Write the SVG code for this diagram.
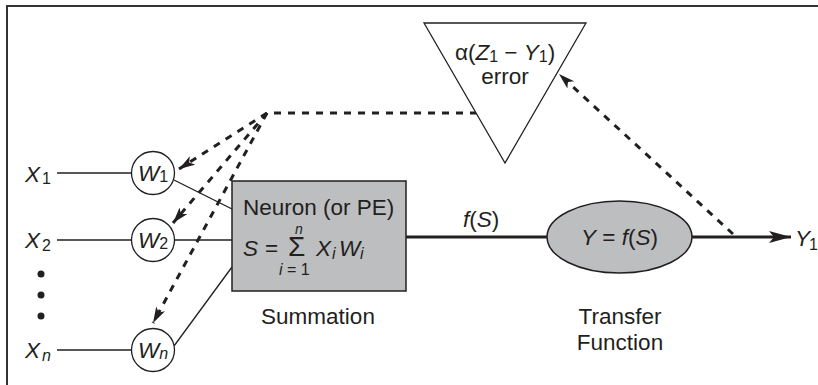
<svg xmlns="http://www.w3.org/2000/svg" width="818" height="385" viewBox="0 0 818 385">
<style>
text{font-family:"Liberation Sans",Arial,sans-serif;font-size:22.5px;fill:#231f20}
.i{font-style:italic}
.s{font-size:16px}
.sn{font-size:14px}
.sig{font-size:28px}
.thin{stroke:#231f20;stroke-width:1.3;fill:none}
.thick{stroke:#231f20;stroke-width:3;fill:none}
.dash{stroke:#231f20;stroke-width:3;fill:none;stroke-dasharray:7 7}
.circ{fill:#fff;stroke:#231f20;stroke-width:1.3}
.gray{fill:#bdbec0;stroke:#231f20;stroke-width:1.5}
</style>
<defs>
<marker id="ah" markerUnits="userSpaceOnUse" markerWidth="18" markerHeight="12" refX="16" refY="5" orient="auto">
<path d="M0,0 L16,5 L0,10 L4,5 z" fill="#231f20"/>
</marker>
<marker id="ah2" markerUnits="userSpaceOnUse" markerWidth="24" markerHeight="14" refX="22" refY="6" orient="auto">
<path d="M0,0 L22,6 L0,12 L5,6 z" fill="#231f20"/>
</marker>
</defs>
<rect width="818" height="385" fill="#fff"/>
<path d="M7,385 V6 H818" stroke="#333" stroke-width="2" fill="none"/>

<g id="connectors">
<line class="thin" x1="57" y1="173" x2="132" y2="173"/>
<line class="thin" x1="57" y1="240" x2="132" y2="240"/>
<line class="thin" x1="57" y1="350" x2="132" y2="350"/>
<line class="thin" x1="174" y1="180" x2="232" y2="209"/>
<line class="thin" x1="174" y1="240" x2="232" y2="240"/>
<line class="thin" x1="174" y1="346" x2="232" y2="267"/>
<line class="thick" x1="406" y1="237" x2="547" y2="237"/>
<line class="thick" x1="692" y1="237" x2="791" y2="237" marker-end="url(#ah2)"/>
<path class="dash" d="M477,113 L267,113 L179,169" marker-end="url(#ah)"/>
<path class="dash" d="M267,113 L173,223" marker-end="url(#ah)"/>
<path class="dash" d="M267,113 L153,323" marker-end="url(#ah)"/>
<path class="dash" d="M733,234 L559,74" marker-end="url(#ah)"/>
</g>

<g id="inputs">
<text x="25" y="182" class="i">X</text><text x="42" y="184" class="s">1</text>
<text x="25" y="248" class="i">X</text><text x="42" y="251" class="s">2</text>
<text x="25" y="358" class="i">X</text><text x="42" y="361" class="s i">n</text>
<circle cx="41" cy="274" r="3.5" fill="#231f20"/>
<circle cx="41" cy="295" r="3.5" fill="#231f20"/>
<circle cx="41" cy="316" r="3.5" fill="#231f20"/>
</g>

<g id="w1"><circle class="circ" cx="153" cy="173" r="21.5"/><text x="153" y="181" text-anchor="middle"><tspan class="i">W</tspan><tspan class="s" dy="1">1</tspan></text></g>
<g id="w2"><circle class="circ" cx="153" cy="240" r="21.5"/><text x="153" y="248" text-anchor="middle"><tspan class="i">W</tspan><tspan class="s" dy="1">2</tspan></text></g>
<g id="wn"><circle class="circ" cx="153" cy="350" r="21.5"/><text x="153" y="358" text-anchor="middle"><tspan class="i">W</tspan><tspan class="s i" dy="1">n</tspan></text></g>

<g id="neuron">
<rect class="gray" x="232" y="181" width="174" height="110"/>
<text x="243" y="215">Neuron (or PE)</text>
<text x="243" y="256" class="i">S</text>
<text x="265" y="256">=</text>
<text x="288" y="256" class="sig">Σ</text>
<text x="295" y="234" class="sn i">n</text>
<text x="279" y="275" class="s"><tspan class="i">i</tspan> = 1</text>
<text x="316" y="256" class="i">X</text><text x="332" y="259" class="s i">i</text>
<text x="339" y="256" class="i">W</text><text x="360" y="259" class="s i">i</text>
<text x="318" y="324" text-anchor="middle">Summation</text>
</g>

<text x="463" y="227"><tspan class="i">f</tspan>(<tspan class="i">S</tspan>)</text>

<g id="transfer">
<ellipse class="gray" cx="619.5" cy="237" rx="72.5" ry="36"/>
<text x="619.5" y="245" text-anchor="middle"><tspan class="i">Y</tspan> = <tspan class="i">f</tspan>(<tspan class="i">S</tspan>)</text>
<text x="620" y="324" text-anchor="middle">Transfer</text>
<text x="620" y="350" text-anchor="middle">Function</text>
</g>

<g id="output"><text x="795" y="246" class="i">Y</text><text x="809" y="250" class="s">1</text></g>

<g id="error">
<path d="M424,23 L586,23 L505,163 z" fill="#fff" stroke="#231f20" stroke-width="1.3"/>
<text x="505" y="60" text-anchor="middle">α(<tspan class="i">Z</tspan><tspan class="s" dy="2">1</tspan><tspan dy="-2"> − </tspan><tspan class="i">Y</tspan><tspan class="s" dy="2">1</tspan><tspan dy="-2">)</tspan></text>
<text x="505" y="84" text-anchor="middle">error</text>
</g>
</svg>
